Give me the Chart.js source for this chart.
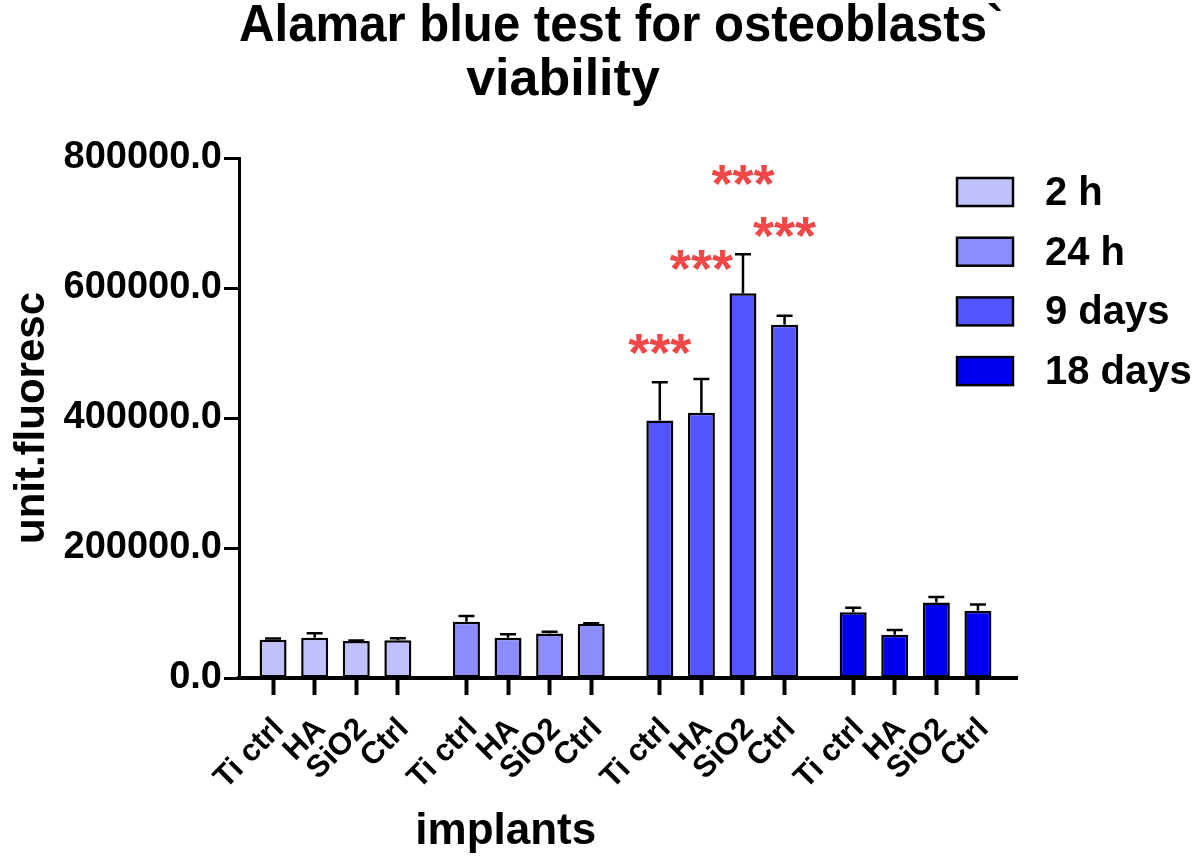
<!DOCTYPE html>
<html>
<head>
<meta charset="utf-8">
<script src="https://cdn.jsdelivr.net/npm/chart.js@4.4.1/dist/chart.umd.min.js"></script>
<style>
  body { margin: 0; background: #fff; }
</style>
</head>
<body>
<canvas id="grafica" width="1200" height="864"></canvas>
<script>
// datos
const tiempos = ["2 h", "24 h", "9 days", "18 days"]
const implantes = ["Ti ctrl", "HA", "SiO2", "Ctrl"]
const valores2h = [58800, 62000, 56800, 58000]
const errores2h = [2000, 7000, 1000, 3000]
const valores24h = [86500, 62000, 68600, 83400]
const errores24h = [9000, 5500, 2500, 800]
const valores9d = [396000, 408000, 592000, 543500]
const errores9d = [59000, 52000, 60000, 14000]
const valores18d = [101000, 66500, 116000, 103500]
const errores18d = [7000, 7500, 8500, 9500]
const estrellas9d = [510000, 640000, 770000, 690000]
const ticksY = [0, 200000, 400000, 600000, 800000]

const coloresBarras = ["#c0c0ff", "#8c8cff", "#5555ff", "#0000ee"]
const fuente = "'Liberation Sans', Arial, sans-serif"
const separacion = 0.65

const valores = [valores2h, valores24h, valores9d, valores18d]
const errores = [errores2h, errores24h, errores9d, errores18d]

function posicion(g, i) {
    return g * (implantes.length + separacion) + i
}

const posiciones = []
const etiquetas = []
tiempos.forEach((t, g) => {
    implantes.forEach((nombre, i) => {
        posiciones.push(posicion(g, i))
        etiquetas.push(nombre)
    })
})

const datasets = tiempos.map((t, g) => {
    return {
        label: t,
        data: valores[g].map((v, i) => ({ x: posicion(g, i), y: v })),
        errores: errores[g],
        backgroundColor: coloresBarras[g],
        borderColor: "#000",
        borderWidth: 2.5,
        borderSkipped: false,
        grouped: false,
        maxBarThickness: 27
    }
})

const barrasError = {
    id: "barrasError",
    afterDatasetsDraw(chart) {
        const ctx = chart.ctx
        const escalaY = chart.scales.y
        ctx.save()
        ctx.strokeStyle = "#000"
        ctx.lineWidth = 2.5
        chart.data.datasets.forEach((ds, d) => {
            const meta = chart.getDatasetMeta(d)
            meta.data.forEach((barra, i) => {
                const arriba = escalaY.getPixelForValue(ds.data[i].y + ds.errores[i])
                ctx.beginPath()
                ctx.moveTo(barra.x, barra.y)
                ctx.lineTo(barra.x, arriba)
                ctx.moveTo(barra.x - 8, arriba)
                ctx.lineTo(barra.x + 8, arriba)
                ctx.stroke()
            })
        })
        // asteriscos del grupo 9 days
        const meta9 = chart.getDatasetMeta(2)
        ctx.fillStyle = "#f04848"
        ctx.font = "bold 54px " + fuente
        ctx.textAlign = "center"
        ctx.textBaseline = "middle"
        meta9.data.forEach((barra, i) => {
            ctx.fillText("***", barra.x, escalaY.getPixelForValue(estrellas9d[i]) + 10)
        })
        ctx.restore()
    }
}

const leyenda = {
    id: "leyenda",
    afterDraw(chart) {
        const ctx = chart.ctx
        const area = chart.chartArea
        const x0 = area.right - 60
        const y0 = area.top + 34
        ctx.save()
        ctx.font = "bold 40px " + fuente
        ctx.textBaseline = "middle"
        ctx.textAlign = "left"
        chart.data.datasets.forEach((ds, d) => {
            const y = y0 + d * 59.7
            ctx.fillStyle = ds.backgroundColor
            ctx.fillRect(x0, y - 14, 56, 28)
            ctx.strokeStyle = "#000"
            ctx.lineWidth = 2.5
            ctx.strokeRect(x0, y - 14, 56, 28)
            ctx.fillStyle = "#000"
            ctx.fillText(ds.label, x0 + 88, y + 2)
        })
        ctx.restore()
    }
}

const config = {
    type: "bar",
    data: { datasets: datasets },
    options: {
        responsive: false,
        animation: false,
        layout: { padding: { left: 0, right: 183, top: 0, bottom: 0 } },
        plugins: {
            legend: { display: false },
            tooltip: { enabled: false },
            title: {
                display: true,
                fullSize: false,
                text: ["Alamar blue test for osteoblasts` ", "viability         "],
                color: "#000",
                font: { family: fuente, size: 52, weight: "bold", lineHeight: "54px" },
                padding: { top: 0, bottom: 50 }
            }
        },
        scales: {
            x: {
                type: "linear",
                offset: false,
                min: -0.82,
                max: posicion(3, 3) + 0.94,
                afterFit(scale) { scale.height = 186 },
                afterBuildTicks(scale) {
                    scale.ticks = posiciones.map(v => ({ value: v }))
                },
                ticks: {
                    autoSkip: false,
                    maxRotation: 45,
                    minRotation: 45,
                    padding: 16,
                    labelOffset: 6,
                    color: "#000",
                    font: { family: fuente, size: 31, weight: "bold" },
                    callback: (valor, indice) => etiquetas[indice]
                },
                grid: { offset: false, drawOnChartArea: false, drawTicks: true, tickLength: 17, tickWidth: 4, tickColor: "#000" },
                border: { display: true, width: 4, color: "#000" },
                title: {
                    display: true,
                    text: "implants                    ",
                    color: "#000",
                    font: { family: fuente, size: 44, weight: "bold" },
                    padding: { top: 0, bottom: 6 }
                }
            },
            y: {
                min: 0,
                max: 800000,
                afterFit(scale) { scale.width = 239 },
                afterBuildTicks(scale) {
                    scale.ticks = ticksY.map(v => ({ value: v }))
                },
                ticks: {
                    padding: 2,
                    color: "#000",
                    font: { family: fuente, size: 38, weight: "bold" },
                    callback: (valor) => valor.toFixed(1)
                },
                grid: { drawOnChartArea: false, drawTicks: true, tickLength: 15, tickWidth: 3, tickColor: "#000" },
                border: { display: true, width: 3, color: "#000" },
                title: {
                    display: true,
                    text: "unit.fluoresc",
                    color: "#000",
                    font: { family: fuente, size: 42, weight: "bold" },
                    padding: { top: 7, bottom: 0 }
                }
            }
        }
    },
    plugins: [barrasError, leyenda]
}

new Chart(document.getElementById("grafica"), config)
</script>
</body>
</html>
